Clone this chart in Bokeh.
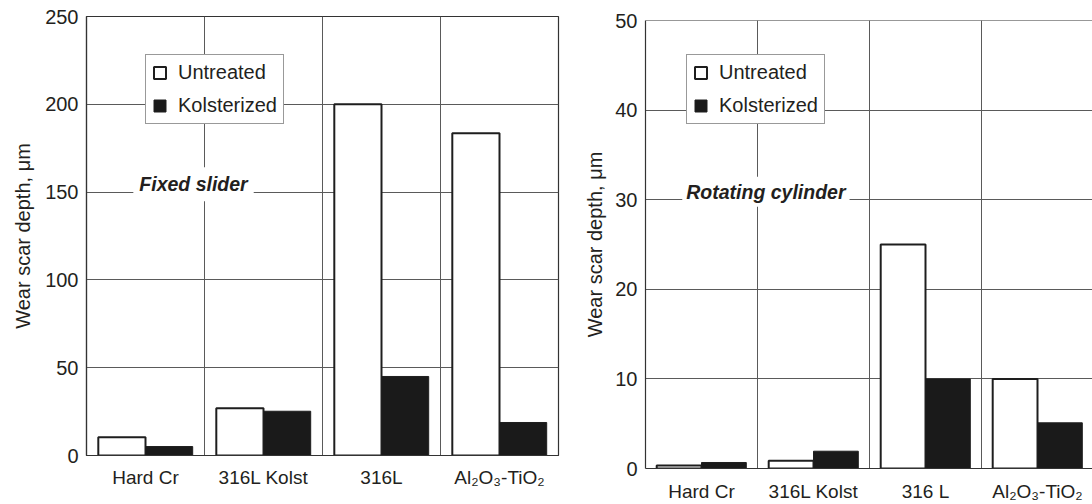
from bokeh.plotting import figure
from bokeh.layouts import row
from bokeh.models import FixedTicker, Label, Span, Range1d
from bokeh.embed import file_html
from bokeh.resources import INLINE

# ---- data ----
categories_left = ["Hard Cr", "316L Kolst", "316L", "Al\u2082O\u2083-TiO\u2082"]
untreated_left = [10.4, 26.9, 200, 183.5]
kolsterized_left = [5.1, 25.2, 45, 18.8]

categories_right = ["Hard Cr", "316L Kolst", "316 L", "Al\u2082O\u2083-TiO\u2082"]
untreated_right = [0.34, 0.86, 25, 10]
kolsterized_right = [0.67, 1.93, 10, 5.1]

series_names = ["Untreated", "Kolsterized"]
y_label = "Wear scar depth, \u03bcm"

FONT = "Liberation Sans"
TXT = "#231f20"
GRID = "#5a5a5a"
BAR_LINE = "#1e1e1e"
BLACK_FILL = "#1a1a1a"


def panel(cats, unt, kol, ymax, ystep, width, bl, br, bt, bb, xend,
          title, tx, ty, tpad, legend_loc, outline, label_standoff, xlab_standoff):
    p = figure(width=width, height=504, output_backend="svg",
               toolbar_location=None, x_range=Range1d(0, xend),
               y_range=Range1d(0, ymax),
               min_border_left=bl, min_border_right=br,
               min_border_top=bt, min_border_bottom=bb)
    p.frame_align = False
    p.background_fill_color = "white"
    p.border_fill_color = "white"
    if outline:
        p.outline_line_color = "#333333"
        p.outline_line_width = 1.2
    else:
        p.outline_line_color = None
        p.add_layout(Span(location=ymax, dimension="width",
                          line_color="#333333", line_width=1.2))

    centers = [i + 0.5 for i in range(len(cats))]
    xu = [c - 0.2 for c in centers]
    xk = [c + 0.2 for c in centers]
    p.vbar(x=xu, top=unt, bottom=0, width=0.4, fill_color="white",
           line_color=BAR_LINE, line_width=2, legend_label=series_names[0])
    p.vbar(x=xk, top=kol, bottom=0, width=0.4, fill_color=BLACK_FILL,
           line_color=BAR_LINE, line_width=1, legend_label=series_names[1])

    # axes
    p.xaxis.ticker = FixedTicker(ticks=centers)
    p.xaxis.major_label_overrides = {c: n for c, n in zip(centers, cats)}
    p.xaxis.major_tick_line_color = None
    p.xaxis.minor_tick_line_color = None
    p.xaxis.axis_line_color = "#333333"
    p.xaxis.axis_line_width = 1.2
    p.xaxis.major_label_standoff = xlab_standoff
    p.xaxis.major_label_text_font = FONT
    p.xaxis.major_label_text_font_size = "19px"
    p.xaxis.major_label_text_color = TXT

    p.yaxis.ticker = FixedTicker(ticks=list(range(0, ymax + 1, ystep)))
    p.yaxis.major_tick_line_color = None
    p.yaxis.minor_tick_line_color = None
    p.yaxis.axis_line_color = "#333333"
    p.yaxis.axis_line_width = 1.2
    p.yaxis.major_label_standoff = 2
    p.yaxis.major_label_text_font = FONT
    p.yaxis.major_label_text_font_size = "20px"
    p.yaxis.major_label_text_color = TXT
    p.yaxis.axis_label = y_label
    p.yaxis.axis_label_text_font = FONT
    p.yaxis.axis_label_text_font_size = "20px"
    p.yaxis.axis_label_text_font_style = "normal"
    p.yaxis.axis_label_text_color = TXT
    p.yaxis.axis_label_standoff = label_standoff

    # grid
    p.xgrid.ticker = FixedTicker(ticks=[1, 2, 3])
    p.xgrid.grid_line_color = GRID
    p.xgrid.grid_line_width = 1
    p.ygrid.grid_line_color = GRID
    p.ygrid.grid_line_width = 1

    # title inside the plot
    p.add_layout(Label(x=tx, y=ty, text=title, text_font=FONT,
                       text_font_size="19.5px", text_font_style="bold italic",
                       text_color=TXT, text_align="center", text_baseline="middle",
                       background_fill_color="white", padding=tpad))

    # legend
    lg = p.legend[0]
    lg.location = legend_loc
    lg.border_line_color = "#333333"
    lg.border_line_width = 1.2
    lg.background_fill_color = "white"
    lg.background_fill_alpha = 1
    lg.label_text_font = FONT
    lg.label_text_font_size = "20px"
    lg.label_text_color = TXT
    lg.glyph_width = 15
    lg.glyph_height = 15
    lg.label_standoff = 11
    lg.padding = 6
    lg.spacing = 10
    lg.margin = 0
    return p


p1 = panel(categories_left, untreated_left, kolsterized_left, 250, 50,
           width=570, bl=86, br=12, bt=16, bb=49, xend=4,
           title="Fixed slider", tx=0.907, ty=154.5, tpad=6,
           legend_loc=(59, 331), outline=True, label_standoff=8, xlab_standoff=5)

p2 = panel(categories_right, untreated_right, kolsterized_right, 50, 10,
           width=522, bl=75, br=0, bt=20, bb=36, xend=447 / 112,
           title="Rotating cylinder", tx=1.075, ty=30.9, tpad=4,
           legend_loc=(41, 344), outline=False, label_standoff=6, xlab_standoff=6)

layout = row(p1, p2)
open("out.html", "w").write(file_html(layout, INLINE))
